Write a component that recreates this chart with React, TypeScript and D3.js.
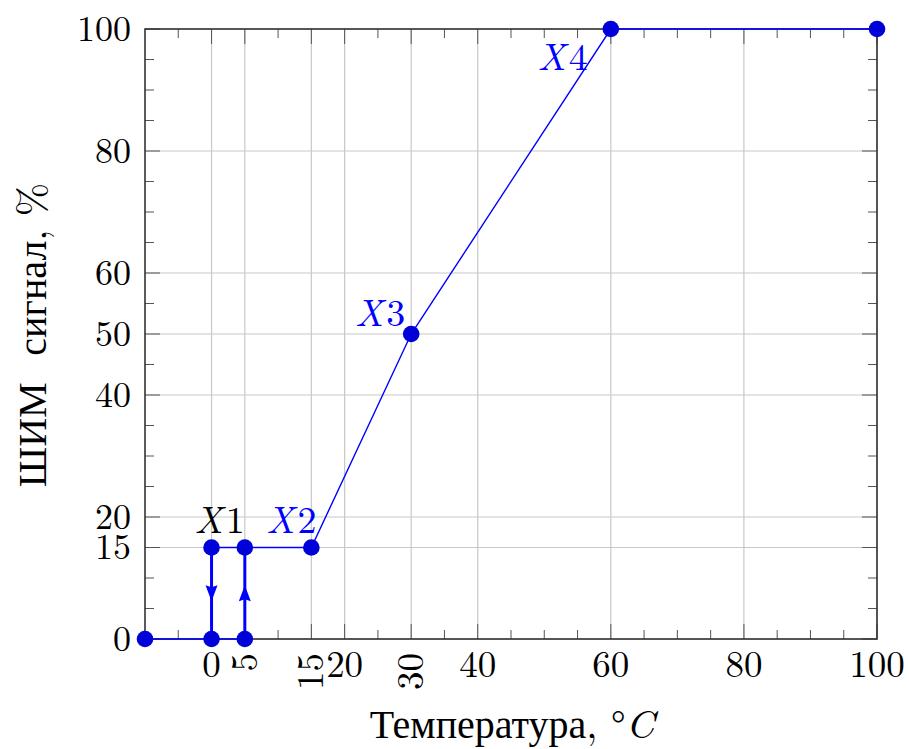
import { useEffect, useRef } from 'react';
import * as d3 from 'd3';

// temperature (°C) vs PWM signal (%)
const lowerX = [-10, 0, 5];
const lowerY = [0, 0, 0];
const upperX = [0, 5, 15, 30, 60, 100];
const upperY = [15, 15, 15, 50, 100, 100];
const downArrow = { x: 0, from: 15, to: 0 };
const upArrow = { x: 5, from: 0, to: 15 };

const xTicks = [0, 5, 15, 20, 30, 40, 60, 80, 100];
const xRotated = [5, 15, 30];
const yTicks = [0, 15, 20, 40, 50, 60, 80, 100];
const minorStep = 5;

const labels = [
  { name: 'X', idx: '1', x: 0, y: 15, color: '#000', dx: 8, dy: -15, anchor: 'middle' },
  { name: 'X', idx: '2', x: 15, y: 15, color: '#0000ff', dx: -20, dy: -15, anchor: 'middle' },
  { name: 'X', idx: '3', x: 30, y: 50, color: '#0000ff', dx: -6, dy: -8, anchor: 'end' },
  { name: 'X', idx: '4', x: 60, y: 100, color: '#0000ff', dx: -23, dy: 41, anchor: 'end' },
];

const W = 909;
const H = 749;
const FONT = '"Latin Modern Roman", "CMU Serif", "Liberation Serif", serif';

export default function App() {
  const svgRef = useRef<SVGSVGElement>(null);

  useEffect(() => {
    const svg = d3.select(svgRef.current);
    svg.selectAll('*').remove();

    const left = 145, right = 877, top = 29, bottom = 639;
    const x = d3.scaleLinear().domain([-10, 100]).range([left, right]);
    const y = d3.scaleLinear().domain([0, 100]).range([bottom, top]);

    const g = svg.append('g').style('font-family', FONT);

    // grid
    g.selectAll('.gx').data(xTicks).join('line')
      .attr('x1', (d) => x(d)).attr('x2', (d) => x(d))
      .attr('y1', top).attr('y2', bottom)
      .attr('stroke', '#c8c8c8').attr('stroke-width', 1.2);
    g.selectAll('.gy').data(yTicks).join('line')
      .attr('y1', (d) => y(d)).attr('y2', (d) => y(d))
      .attr('x1', left).attr('x2', right)
      .attr('stroke', '#c8c8c8').attr('stroke-width', 1.2);

    // minor ticks
    const minorX = d3.range(-10, 100 + 0.1, minorStep).filter((v) => !xTicks.includes(v) && v > -10 && v < 100);
    const minorY = d3.range(0, 100 + 0.1, minorStep).filter((v) => !yTicks.includes(v) && v > 0 && v < 100);
    const tickColor = '#555';
    minorX.forEach((v) => {
      g.append('line').attr('x1', x(v)).attr('x2', x(v)).attr('y1', bottom).attr('y2', bottom - 9).attr('stroke', tickColor).attr('stroke-width', 1);
      g.append('line').attr('x1', x(v)).attr('x2', x(v)).attr('y1', top).attr('y2', top + 9).attr('stroke', tickColor).attr('stroke-width', 1);
    });
    minorY.forEach((v) => {
      g.append('line').attr('y1', y(v)).attr('y2', y(v)).attr('x1', left).attr('x2', left + 9).attr('stroke', tickColor).attr('stroke-width', 1);
      g.append('line').attr('y1', y(v)).attr('y2', y(v)).attr('x1', right).attr('x2', right - 9).attr('stroke', tickColor).attr('stroke-width', 1);
    });
    // major ticks
    xTicks.forEach((v) => {
      g.append('line').attr('x1', x(v)).attr('x2', x(v)).attr('y1', bottom).attr('y2', bottom - 15).attr('stroke', tickColor).attr('stroke-width', 1);
      g.append('line').attr('x1', x(v)).attr('x2', x(v)).attr('y1', top).attr('y2', top + 15).attr('stroke', tickColor).attr('stroke-width', 1);
    });
    yTicks.forEach((v) => {
      g.append('line').attr('y1', y(v)).attr('y2', y(v)).attr('x1', left).attr('x2', left + 15).attr('stroke', tickColor).attr('stroke-width', 1);
      g.append('line').attr('y1', y(v)).attr('y2', y(v)).attr('x1', right).attr('x2', right - 15).attr('stroke', tickColor).attr('stroke-width', 1);
    });

    // frame
    g.append('rect').attr('x', left).attr('y', top).attr('width', right - left).attr('height', bottom - top)
      .attr('fill', 'none').attr('stroke', '#333').attr('stroke-width', 1.6);

    // tick labels
    xTicks.forEach((v) => {
      if (xRotated.includes(v)) {
        g.append('text').attr('transform', `translate(${x(v)},653) rotate(-90)`)
          .attr('text-anchor', 'end').attr('dy', '0.32em')
          .style('font-size', '37px').text(String(v));
      } else {
        g.append('text').attr('x', x(v)).attr('y', 677).attr('text-anchor', 'middle')
          .style('font-size', '37px').text(String(v));
      }
    });
    yTicks.forEach((v) => {
      g.append('text').attr('x', 131).attr('y', y(v)).attr('dy', '0.32em').attr('text-anchor', 'end')
        .style('font-size', '36px').text(String(v));
    });

    // axis titles
    g.append('text').attr('x', 512).attr('y', 738).attr('text-anchor', 'middle')
      .style('font-size', '40px')
      .call((t) => {
        t.append('tspan').text('Температура, °');
        t.append('tspan').style('font-style', 'italic').text('C');
      });
    g.append('text').attr('transform', 'translate(46,335) rotate(-90)').attr('text-anchor', 'middle')
      .style('font-size', '40px')
      .style('white-space', 'pre')
      .text('ШИМ  сигнал, %');

    const lineGen = d3.line<[number, number]>().x((d) => x(d[0])).y((d) => y(d[1]));
    const lower = lowerX.map((v, i) => [v, lowerY[i]] as [number, number]);
    const upper = upperX.map((v, i) => [v, upperY[i]] as [number, number]);

    g.append('path').attr('d', lineGen(lower)).attr('fill', 'none').attr('stroke', '#0000ff').attr('stroke-width', 1.4);
    g.append('path').attr('d', lineGen(upper)).attr('fill', 'none').attr('stroke', '#0000ff').attr('stroke-width', 1.4);

    // vertical arrows
    [downArrow, upArrow].forEach((a) => {
      const px = x(a.x);
      g.append('line').attr('x1', px).attr('x2', px).attr('y1', y(a.from)).attr('y2', y(a.to))
        .attr('stroke', '#0000ff').attr('stroke-width', 3);
      const my = (y(a.from) + y(a.to)) / 2;
      const dir = y(a.to) > y(a.from) ? 1 : -1;
      const tip = my + dir * 8;
      const base = my - dir * 8;
      g.append('path').attr('d', `M${px},${tip} L${px - 6},${base} L${px},${base + dir * 2} L${px + 6},${base} Z`)
        .attr('fill', '#0000ff');
    });

    // markers
    const pts = [...lower, ...upper];
    g.selectAll('.mk').data(pts).join('circle')
      .attr('cx', (d) => x(d[0])).attr('cy', (d) => y(d[1])).attr('r', 8.3)
      .attr('fill', '#0000d8');

    // point labels
    labels.forEach((l) => {
      const t = g.append('text').attr('x', x(l.x) + l.dx).attr('y', y(l.y) + l.dy)
        .attr('text-anchor', l.anchor).style('font-size', '38px').attr('fill', l.color);
      t.append('tspan').style('font-style', 'italic').text(l.name);
      t.append('tspan').attr('dx', 3).text(l.idx);
    });
  }, []);

  return (
    <svg ref={svgRef} width={W} height={H} style={{ position: 'absolute', left: 0, top: 0, background: '#fff' }} />
  );
}
